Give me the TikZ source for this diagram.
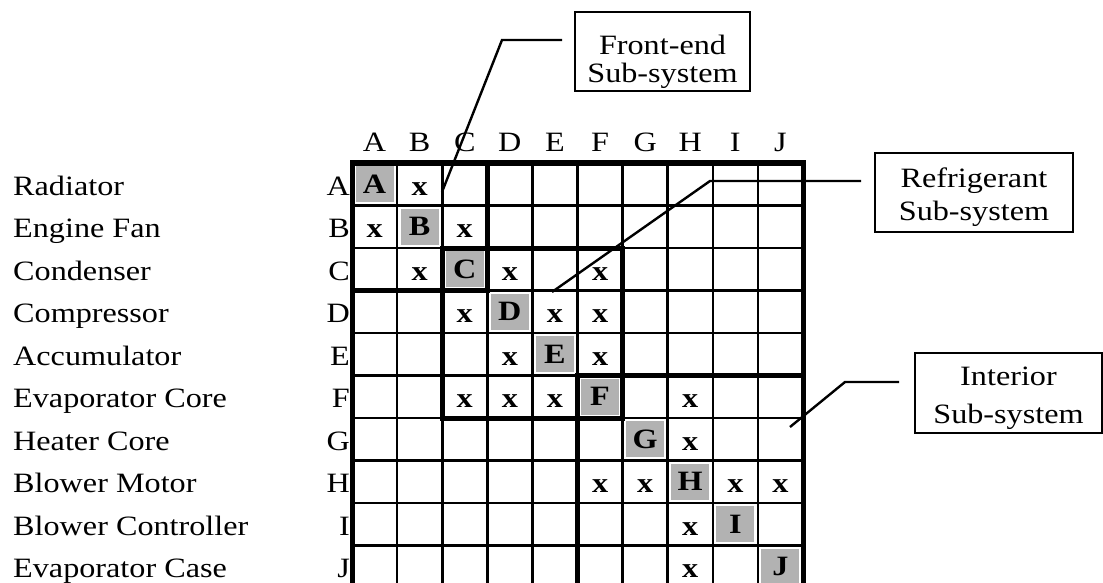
\documentclass[tikz,border=0pt]{standalone}
\usepackage{fontspec}
\setmainfont{Liberation Serif}[FakeStretch=1.15]
\begin{document}
\begin{tikzpicture}[x=1pt,y=-1pt,
  lbl/.style={font=\fontsize{28}{28}\selectfont, inner sep=0pt},
  cellx/.style={font=\fontsize{28}{28}\selectfont\bfseries, inner sep=0pt},
  diag/.style={fill=gray!60, minimum width=38pt, minimum height=36pt, inner sep=0pt,
               font=\fontsize{28}{28}\selectfont\bfseries},
  gridline/.style={line width=2.6pt},
  blockline/.style={line width=5pt},
  callout/.style={draw, line width=1.8pt, align=center, inner sep=0pt,
                  font=\fontsize{28}{28}\selectfont},
  leader/.style={line width=2.4pt}]
\useasboundingbox (0,0) rectangle (1103,583);
\def\gx{352}\def\gy{163}\def\cw{45.1}\def\rh{42.5}
% diagonal shaded cells
\foreach \l [count=\k from 0] in {A,B,C,D,E,F,G,H,I,J}
  \node[diag] (d\l) at ({\gx+(\k+0.5)*\cw},{\gy+(\k+0.5)*\rh}) {\l};
% grid
\foreach \i in {1,...,9} {
  \draw[gridline] ({\gx+\i*\cw},\gy) -- ({\gx+\i*\cw},{\gy+10*\rh});
  \draw[gridline] (\gx,{\gy+\i*\rh}) -- ({\gx+10*\cw},{\gy+\i*\rh});
}
% thick blocks
\draw[blockline] (\gx,\gy) rectangle ({\gx+10*\cw},{\gy+10*\rh});
\draw[blockline] (\gx,\gy) rectangle ({\gx+3*\cw},{\gy+3*\rh});
\draw[blockline] ({\gx+2*\cw},{\gy+2*\rh}) rectangle ({\gx+6*\cw},{\gy+6*\rh});
\draw[blockline] ({\gx+5*\cw},{\gy+5*\rh}) rectangle ({\gx+10*\cw},{\gy+10*\rh});
% column headers
\foreach \l [count=\k from 0] in {A,B,C,D,E,F,G,H,I,J}
  \node[lbl, anchor=base] (h\l) at ({\gx+(\k+0.5)*\cw},152) {\l};
% row names and letters
\foreach \n/\l [count=\k from 0] in {Radiator/A,Engine Fan/B,Condenser/C,Compressor/D,
    Accumulator/E,Evaporator Core/F,Heater Core/G,Blower Motor/H,
    Blower Controller/I,Evaporator Case/J} {
  \node[lbl, anchor=base west] (n\l) at (13,{\gy+(\k+0.5)*\rh+11}) {\n};
  \node[lbl, anchor=base east] (r\l) at (350,{\gy+(\k+0.5)*\rh+11}) {\l};
}
% x marks
\foreach \r/\c in {0/1,1/0,1/2,2/1,2/3,2/5,3/2,3/4,3/5,4/3,4/5,5/2,5/3,5/4,5/7,
    6/7,7/5,7/6,7/8,7/9,8/7,9/7}
  \node[cellx, anchor=base] (x\r\c) at ({\gx+(\c+0.5)*\cw},{\gy+(\r+0.5)*\rh+11}) {x};
% callout boxes
\node[callout, minimum width=175pt, text height=71pt, text depth=8pt] (fe) at (662.5,51.5)
  {Front-end\\Sub-system};
\node[callout, minimum width=198pt, text height=67pt, text depth=12pt] (rf) at (974,192.5)
  {Refrigerant\\[5pt]Sub-system};
\node[callout, minimum width=187pt, text height=70pt, text depth=10pt] (in) at (1008.5,393)
  {Interior\\[10pt]Sub-system};
% leaders
\coordinate (feB) at (502,40);  \coordinate (feE) at (442,192);
\coordinate (rfB) at (710,181); \coordinate (rfE) at (552,292);
\coordinate (inB) at (845,382); \coordinate (inE) at (790,427);
\draw[leader] ([xshift=-12pt,yshift=11.5pt]fe.west) -- (feB) -- (feE);
\draw[leader] ([xshift=-13pt,yshift=11.5pt]rf.west) -- (rfB) -- (rfE);
\draw[leader] ([xshift=-15pt,yshift=11pt]in.west) -- (inB) -- (inE);
\end{tikzpicture}
\end{document}
